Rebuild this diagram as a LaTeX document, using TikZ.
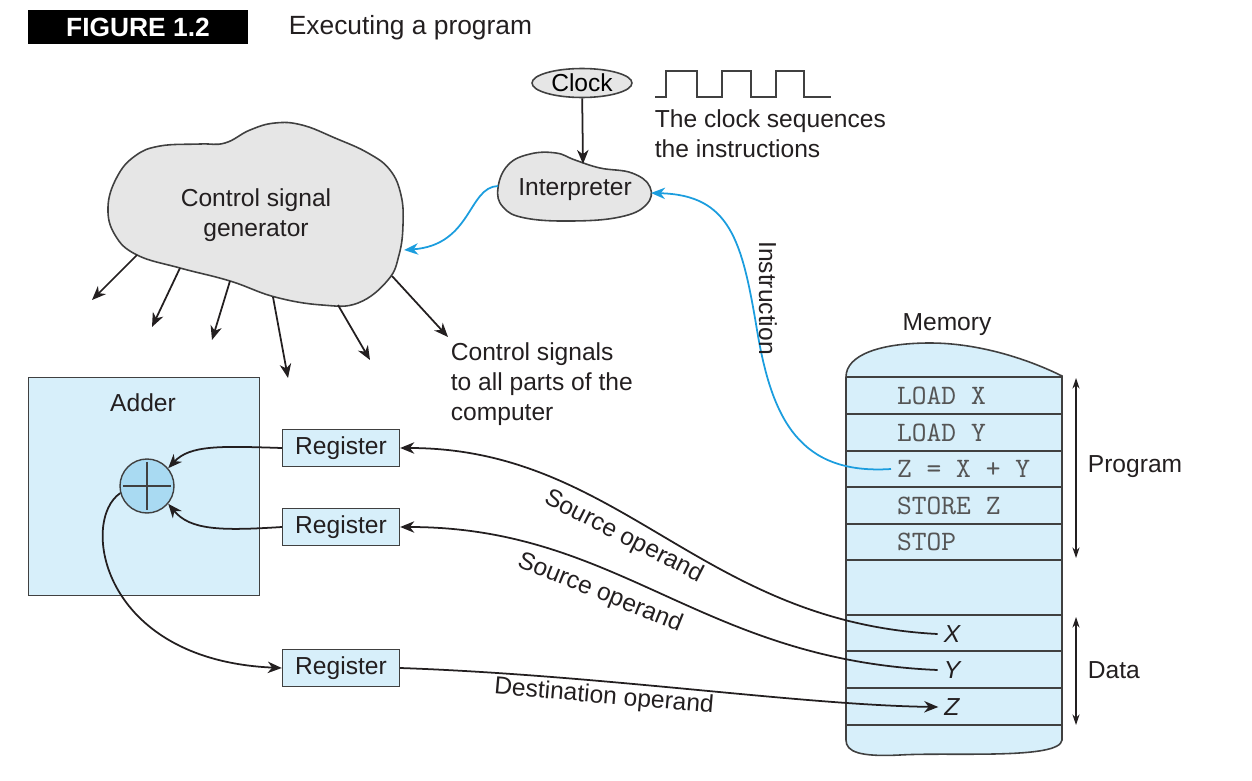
\documentclass[tikz,border=0pt]{standalone}
\usepackage{fontspec}
\setmainfont{Liberation Sans}
\newfontfamily\codefont{lmmono10-regular}[Extension=.otf]
\definecolor{inkblack}{HTML}{231F20}
\definecolor{edgegray}{HTML}{404040}
\definecolor{cloudgray}{HTML}{E6E6E6}
\definecolor{memblue}{HTML}{D7EFFA}
\definecolor{plusblue}{HTML}{A9DAF2}
\definecolor{wireblue}{HTML}{1B9DDE}
\definecolor{codegray}{HTML}{555555}
\usetikzlibrary{shapes.geometric, arrows.meta, positioning}
\newcommand{\bodysize}{\fontsize{14}{17}\selectfont}
\tikzset{
  lbl/.style={font=\bodysize, text=inkblack, inner sep=2pt},
  regbox/.style={
    draw=edgegray, fill=memblue, line width=0.8pt,
    minimum width=2.34cm, minimum height=0.74cm,
    font=\bodysize, text=inkblack, inner sep=0pt
  },
  blob/.style={draw=edgegray, fill=cloudgray, line width=0.9pt},
  arr/.style={-{Stealth[length=8pt,width=6.5pt,inset=2.5pt]}, line width=1pt, color=#1},
  arr/.default=inkblack,
  darr/.style={{Stealth[length=6pt,width=4pt]}-{Stealth[length=6pt,width=4pt]}, line width=0.6pt, color=inkblack},
  rowtxt/.style={font=\codefont\fontsize{16}{19}\selectfont, text=codegray, anchor=west},
  cell/.style={font=\bodysize\itshape, text=inkblack},
}

\begin{document}
\begin{tikzpicture}[x=0.02cm, y=-0.02cm]
    \useasboundingbox (0,0) rectangle (1252,781);

    % title
    \node[fill=black, minimum width=4.4cm, minimum height=0.68cm, text=white,
      font=\fontsize{15}{18}\selectfont\bfseries] (fig) at (138,27) {FIGURE 1.2};
    \node[lbl, font=\fontsize{15}{18}\selectfont, anchor=west] (title) at (285,28) {Executing a program};

    % clock and interpreter
    \node[ellipse, draw=edgegray, fill=cloudgray, line width=0.9pt, minimum width=2.0cm,
      minimum height=0.58cm, inner sep=0pt, font=\bodysize] (clock) at (582,83) {Clock};
    \draw[edgegray, line width=0.9pt] (655,97) -- (666,97) -- (666,71) -- (697,71) -- (697,97)
      -- (722,97) -- (722,71) -- (751,71) -- (751,97) -- (776,97) -- (776,71) -- (804,71)
      -- (804,97) -- (831,97);
    \node[lbl, anchor=west, align=left] (clocknote) at (651,134) {The clock sequences\\the instructions};

    \draw[blob] plot[smooth cycle, tension=0.7] coordinates {(498,188) (508,165) (530,154) (556,153)
      (575,160) (600,168) (632,173) (650,187) (646,205) (620,217) (572,221) (525,218) (503,207)};
    \node[lbl] (interp) at (575,190) {Interpreter};
    \coordinate (interpN) at (583,164);
    \coordinate (interpW) at (498,186);
    \coordinate (interpE) at (651,193);
    \draw[arr] (clock) -- (interpN);

    % control signal generator
    \draw[blob] plot[smooth cycle, tension=0.7] coordinates {(108,207) (117,177) (135,156) (160,146)
      (200,144) (225,143) (250,130) (275,123) (302,125) (335,138) (368,153) (390,170) (401,195)
      (403,225) (399,255) (388,280) (358,303) (322,305) (275,297) (230,281) (180,268) (137,255)
      (115,235)};
    \node[lbl, align=center] (csg) at (256,215) {Control signal\\generator};
    \coordinate (cgE) at (404,250);
    \draw[arr=wireblue] (interpW) .. controls (468,187) and (472,245) .. (cgE);

    \coordinate (cg-s1) at (137,255); \coordinate (sig1) at (92,300);
    \coordinate (cg-s2) at (180,268); \coordinate (sig2) at (152,327);
    \coordinate (cg-s3) at (230,281); \coordinate (sig3) at (212,340);
    \coordinate (cg-s4) at (273,297); \coordinate (sig4) at (288,378);
    \coordinate (cg-s5) at (338,305); \coordinate (sig5) at (370,360);
    \coordinate (cg-s6) at (392,276); \coordinate (sig6) at (448,337);
    \foreach \i in {1,...,6}
      \draw[arr] (cg-s\i) -- (sig\i);
    \node[lbl, anchor=west, align=left] (signote) at (447,384)
      {Control signals\\to all parts of the\\computer};

    % memory
    \node[lbl] (memlbl) at (947,325) {Memory};
    \draw[draw=edgegray, fill=memblue, line width=0.9pt] (846,740) -- (846,377)
      .. controls (846,355) and (880,343) .. (930,343)
      .. controls (980,343) and (1030,360) .. (1062,376) -- (1062,740)
      .. controls (1060,760) and (950,752) .. (900,755)
      .. controls (860,757) and (846,752) .. (846,740) -- cycle;
    \foreach \y in {377,414,451,487,524,560,615,651,688,725}
      \draw[edgegray, line width=0.8pt] (846,\y) -- (1062,\y);

    \node[rowtxt] (rowA) at (891,396) {LOAD X};
    \node[rowtxt] (rowB) at (891,433) {LOAD Y};
    \node[rowtxt] (rowC) at (891,469) {Z = X + Y};
    \node[rowtxt] (rowD) at (891,506) {STORE Z};
    \node[rowtxt] (rowE) at (891,542) {STOP};
    \node[cell] (memX) at (952,634) {X};
    \node[cell] (memY) at (952,670) {Y};
    \node[cell] (memZ) at (952,707) {Z};

    \coordinate (progTop) at (1076,378);
    \coordinate (progBot) at (1076,558);
    \coordinate (dataTop) at (1076,617);
    \coordinate (dataBot) at (1076,725);
    \draw[darr] (progTop) -- (progBot);
    \draw[darr] (dataTop) -- (dataBot);
    \node[lbl, anchor=west] (prog) at (1084,467) {Program};
    \node[lbl, anchor=west] (data) at (1084,670) {Data};

    % instruction fetch
    \draw[arr=wireblue] (rowC.west) .. controls (800,475) and (772,420) .. (757,330)
      .. controls (742,240) and (730,195) .. (interpE);
    \node[lbl, rotate=-90] (instr) at (768,298) {Instruction};

    % adder
    \node[draw=edgegray, fill=memblue, line width=0.8pt, minimum width=4.62cm,
      minimum height=4.36cm, anchor=north west] (adder) at (28,377) {};
    \node[lbl] (adderlbl) at (143,403) {Adder};
    \node[circle, draw=edgegray, fill=plusblue, line width=0.8pt, minimum size=1.08cm,
      inner sep=0pt] (plus) at (147,486) {};
    \draw[edgegray, line width=0.9pt] ([yshift=-2pt]plus.north) -- ([yshift=2pt]plus.south);
    \draw[edgegray, line width=0.9pt] ([xshift=2pt]plus.west) -- ([xshift=-2pt]plus.east);

    \node[regbox] (reg1) at (341,448) {Register};
    \node[regbox] (reg2) at (341,527) {Register};
    \node[regbox] (reg3) at (341,668) {Register};

    \draw[arr] (reg1.west) .. controls (220,446) and (190,445) .. (plus.40);
    \draw[arr] (reg2.west) .. controls (220,531) and (190,530) .. (plus.-40);
    \draw[arr] (plus.195) .. controls (80,520) and (100,660) .. (reg3.west);

    % operands
    \draw[arr] (memX.west) .. controls (700,622) and (620,448) .. (reg1.east);
    \draw[arr] (memY.west) .. controls (700,660) and (620,527) .. (reg2.east);
    \draw[arr] (reg3.east) .. controls (600,675) and (800,705) .. (memZ.west);
    \node[lbl, rotate=-27] (src1) at (624,537) {Source operand};
    \node[lbl, rotate=-22] (src2) at (600,593) {Source operand};
    \node[lbl, rotate=-5] (dst) at (604,697) {Destination operand};
\end{tikzpicture}
\end{document}
